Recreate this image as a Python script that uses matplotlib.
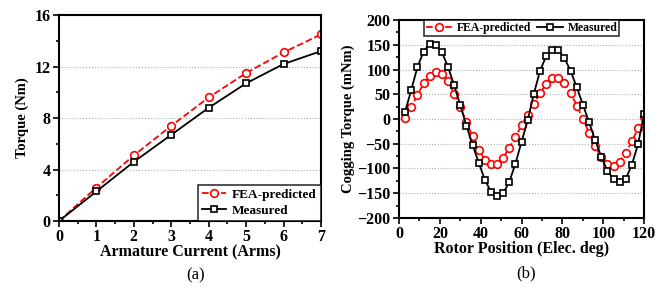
import matplotlib
matplotlib.use('Agg')
import matplotlib.pyplot as plt
from matplotlib.ticker import MultipleLocator

# (a) torque vs armature current
current = [0, 1, 2, 3, 4, 5, 6, 7]
torque_fea = [0, 2.6, 5.1, 7.4, 9.6, 11.5, 13.1, 14.5]
torque_meas = [0, 2.3, 4.6, 6.7, 8.8, 10.7, 12.2, 13.2]

# (b) cogging torque vs rotor position
position = [3, 6, 9, 12, 15, 18, 21, 24, 27, 30, 33, 36, 39, 42, 45, 48, 51, 54, 57, 60,
            63, 66, 69, 72, 75, 78, 81, 84, 87, 90, 93, 96, 99, 102, 105, 108, 111, 114, 117, 120]
cog_fea = [2, 25, 48, 72, 87, 96, 91, 76, 51, 24, -6, -35, -62, -82, -91, -90, -78, -58, -36, -13,
           9, 30, 52, 71, 82, 82, 72, 53, 27, 1, -28, -55, -76, -90, -95, -86, -68, -45, -19, 4]
cog_meas = [15, 59, 105, 136, 152, 150, 135, 105, 68, 28, -14, -52, -88, -123, -147, -156, -150, -127, -90, -46,
            -2, 51, 97, 127, 139, 139, 123, 97, 64, 29, -6, -43, -76, -105, -121, -127, -121, -92, -51, 11]

plt.rcParams['font.family'] = ['Liberation Serif', 'DejaVu Serif']
plt.rcParams['font.weight'] = 'bold'
plt.rcParams['axes.labelweight'] = 'bold'

fig = plt.figure(figsize=(6.59, 2.91), dpi=100)
ax1 = fig.add_axes([0.0895, 0.2405, 0.3975, 0.7075])
ax2 = fig.add_axes([0.6055, 0.251, 0.372, 0.68])


def style_axes(ax):
    for s in ax.spines.values():
        s.set_linewidth(1.5)
    ax.tick_params(which='both', direction='out', top=False, right=False, labelsize=11.5, width=1.2, pad=2)
    ax.tick_params(which='major', length=4)
    ax.tick_params(which='minor', length=2.5)
    ax.grid(axis='y', which='major', linestyle=':', color='#b0b0b0', linewidth=0.8)
    ax.set_axisbelow(True)


fea_kw = dict(color='red', linestyle='--', linewidth=1.3, marker='o', markersize=5.5,
              markerfacecolor='white', markeredgecolor='red', markeredgewidth=1.2)
meas_kw = dict(color='black', linestyle='-', linewidth=1.3, marker='s', markersize=5,
               markerfacecolor='white', markeredgecolor='black', markeredgewidth=1.2)

# panel (a)
ax1.plot(current, torque_fea, label='FEA-predicted', **fea_kw)
ax1.plot(current, torque_meas, label='Measured', **meas_kw)
ax1.set_xlim(0, 7)
ax1.set_ylim(0, 16)
ax1.xaxis.set_major_locator(MultipleLocator(1))
ax1.xaxis.set_minor_locator(MultipleLocator(0.5))
ax1.yaxis.set_major_locator(MultipleLocator(4))
ax1.yaxis.set_minor_locator(MultipleLocator(2))
style_axes(ax1)
ax1.set_xlabel('Armature Current (Arms)', fontsize=11.5, labelpad=-1)
ax1.set_ylabel('Torque (Nm)', fontsize=10.5, labelpad=4)
leg1 = ax1.legend(loc='lower right', fontsize=9.5, frameon=True, fancybox=False,
                  borderaxespad=0, handlelength=1.8, handletextpad=0.5, borderpad=0.3,
                  labelspacing=0.3)
leg1.get_frame().set_edgecolor('black')
leg1.get_frame().set_linewidth(1.2)

# panel (b)
ax2.plot(position, cog_fea, label='FEA-predicted', **fea_kw)
ax2.plot(position, cog_meas, label='Measured', **meas_kw)
ax2.set_xlim(0, 120)
ax2.set_ylim(-200, 200)
ax2.xaxis.set_major_locator(MultipleLocator(20))
ax2.xaxis.set_minor_locator(MultipleLocator(10))
ax2.yaxis.set_major_locator(MultipleLocator(50))
ax2.yaxis.set_minor_locator(MultipleLocator(25))
style_axes(ax2)
ax2.set_xlabel('Rotor Position (Elec. deg)', fontsize=11.5, labelpad=-1)
ax2.set_ylabel('Cogging Torque (mNm)', fontsize=10.5, labelpad=2)
leg2 = ax2.legend(loc='upper center', ncol=2, fontsize=8.5, frameon=True, fancybox=False,
                  borderaxespad=0, handlelength=2.2, borderpad=0.15, columnspacing=0.5,
                  handletextpad=0.4, bbox_to_anchor=(0.5, 1.0))
leg2.get_frame().set_edgecolor('black')
leg2.get_frame().set_linewidth(1.2)

fig.text(0.296, 0.055, '(a)', ha='center', va='center', fontsize=12, fontweight='normal')
fig.text(0.799, 0.062, '(b)', ha='center', va='center', fontsize=12, fontweight='normal')

fig.savefig('out.png', dpi=100)
